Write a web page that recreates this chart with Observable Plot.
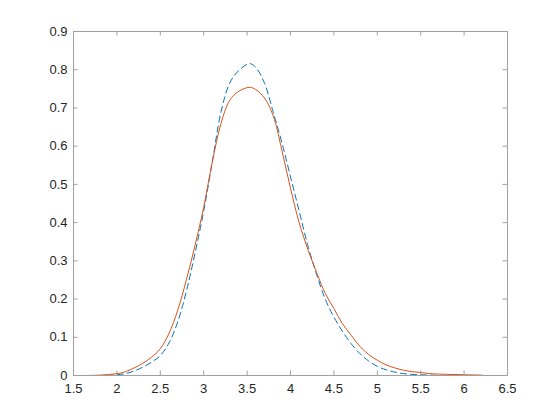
<!DOCTYPE html>
<html>
<head>
<meta charset="utf-8">
<script src="https://cdn.jsdelivr.net/npm/d3@7"></script>
<script src="https://cdn.jsdelivr.net/npm/@observablehq/plot@0.6"></script>
<style>
  html, body { margin: 0; padding: 0; background: #fff; }
  #chart { width: 560px; height: 420px; }
</style>
</head>
<body>
<div id="chart"></div>
<script>
const xTicks = [1.5, 2, 2.5, 3, 3.5, 4, 4.5, 5, 5.5, 6, 6.5];
const yTicks = [0, 0.1, 0.2, 0.3, 0.4, 0.5, 0.6, 0.7, 0.8, 0.9];

const redX = [1.62, 1.8, 2.0, 2.1, 2.2, 2.3, 2.4, 2.5, 2.6, 2.7, 2.8, 2.9, 3.0, 3.1, 3.2, 3.3, 3.4, 3.53, 3.6, 3.7, 3.8, 3.9, 4.0, 4.1, 4.2, 4.3, 4.4, 4.5, 4.6, 4.7, 4.8, 4.9, 5.0, 5.1, 5.2, 5.3, 5.4, 5.5, 5.6, 5.8, 6.0, 6.21];
const redY = [0, 0.001, 0.005, 0.01, 0.02, 0.032, 0.048, 0.07, 0.11, 0.17, 0.25, 0.34, 0.44, 0.56, 0.66, 0.72, 0.743, 0.754, 0.748, 0.726, 0.68, 0.59, 0.49, 0.40, 0.33, 0.27, 0.215, 0.175, 0.135, 0.105, 0.076, 0.055, 0.04, 0.028, 0.02, 0.014, 0.01, 0.008, 0.005, 0.003, 0.002, 0.001];

const blueX = [1.89, 2.0, 2.1, 2.2, 2.3, 2.4, 2.5, 2.6, 2.7, 2.8, 2.9, 3.0, 3.1, 3.2, 3.3, 3.4, 3.53, 3.6, 3.7, 3.8, 3.9, 4.0, 4.1, 4.2, 4.3, 4.4, 4.5, 4.6, 4.7, 4.8, 4.9, 5.0, 5.1, 5.2, 5.3, 5.4, 5.5, 5.73];
const blueY = [0, 0.002, 0.005, 0.012, 0.022, 0.035, 0.052, 0.085, 0.14, 0.22, 0.32, 0.43, 0.56, 0.69, 0.765, 0.797, 0.816, 0.806, 0.765, 0.69, 0.61, 0.52, 0.43, 0.34, 0.265, 0.20, 0.153, 0.115, 0.083, 0.057, 0.038, 0.024, 0.015, 0.009, 0.005, 0.003, 0.002, 0];

const red = redX.map((x, i) => ({x, y: redY[i]}));
const blue = blueX.map((x, i) => ({x, y: blueY[i]}));

const axisColor = "#a0a0a0";
const textColor = "#262626";
const tickLen = 4.5;
const W = 560, H = 420, mL = 73, mR = 53, mT = 31, mB = 45;
const innerW = W - mL - mR, innerH = H - mT - mB;

const chart = Plot.plot({
  width: W,
  height: H,
  marginLeft: mL,
  marginRight: mR,
  marginTop: mT,
  marginBottom: mB,
  style: {fontFamily: "'Liberation Sans', Helvetica, Arial, sans-serif", fontSize: "13px", color: textColor, background: "#fff"},
  x: {domain: [1.5, 6.5]},
  y: {domain: [0, 0.9]},
  marks: [
    Plot.line(blue, {x: "x", y: "y", stroke: "#0072BD", strokeWidth: 1, strokeDasharray: "6,4", curve: "catmull-rom"}),
    Plot.line(red, {x: "x", y: "y", stroke: "#D95319", strokeWidth: 1, curve: "catmull-rom"}),
    Plot.frame({stroke: axisColor, strokeWidth: 1}),
    Plot.tickX(xTicks, {x: d => d, stroke: axisColor, insetTop: innerH - tickLen}),
    Plot.tickX(xTicks, {x: d => d, stroke: axisColor, insetBottom: innerH - tickLen}),
    Plot.tickY(yTicks, {y: d => d, stroke: axisColor, insetRight: innerW - tickLen}),
    Plot.tickY(yTicks, {y: d => d, stroke: axisColor, insetLeft: innerW - tickLen}),
    Plot.axisX({ticks: xTicks, tickSize: 0, tickPadding: 8, label: null, fill: textColor, tickFormat: d => String(d)}),
    Plot.axisY({ticks: yTicks, tickSize: 0, tickPadding: 6, label: null, fill: textColor, tickFormat: d => String(d)})
  ]
});
document.getElementById("chart").appendChild(chart);
</script>
</body>
</html>
